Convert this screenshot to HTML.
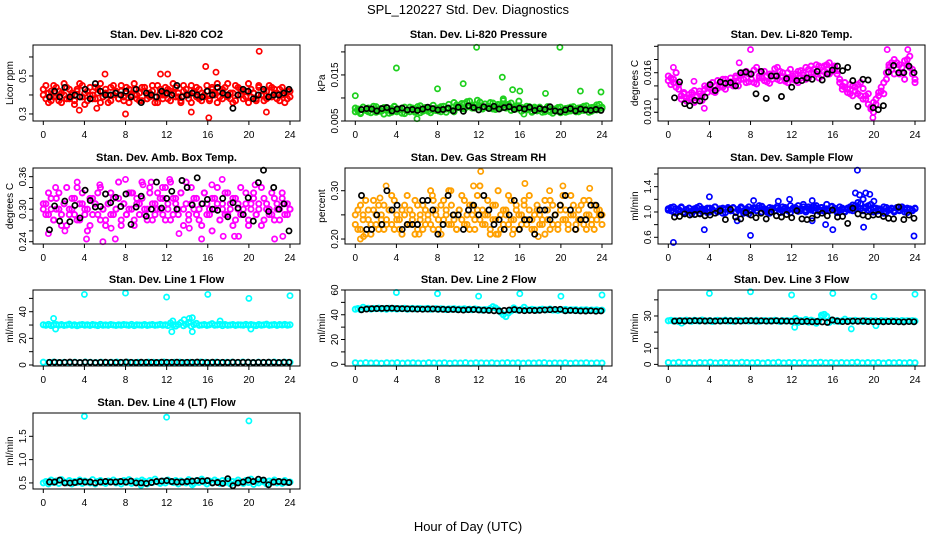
<!DOCTYPE html>
<html><head><meta charset="utf-8"><title>SPL_120227 Std. Dev. Diagnostics</title>
<style>
html,body{margin:0;padding:0;background:#fff;}
svg{display:block;font-family:"Liberation Sans",sans-serif;}
</style></head>
<body>
<svg id="chart" width="936" height="540" viewBox="0 0 936 540" xmlns="http://www.w3.org/2000/svg">
<rect x="0" y="0" width="936" height="540" fill="#fff"/>
<text x="468" y="14" text-anchor="middle" font-size="13">SPL_120227  Std. Dev. Diagnostics</text>
<text x="468" y="531" text-anchor="middle" font-size="13">Hour of Day (UTC)</text>
</svg>
<script>
// ---- data (hour-of-day series, evenly spaced over each day) ----
const xTicks=[0,4,8,12,16,20,24];

const co2Color=[.43,.38,.41,.37,.45,.39,.42,.36,.40,.44,.38,.41,.37,.43,.46,.39,.35,.42,.40,.38,.44,.41,.36,.39,.43,.40,.37,.45,.41,.38,.42,.39,.44,.36,.40,.43,.38,.41,.37,.44,.40,.39,.42,.36,.45,.41,.38,.40,.43,.37,.41,.44,.39,.36,.42,.40,.38,.45,.41,.39,.43,.37,.40,.42,.38,.44,.41,.36,.39,.43,.40,.46,.38,.41,.37,.44,.40,.42,.39,.36,.43,.41,.38,.45,.40,.37,.42,.39,.44,.41,.38,.43,.40,.36,.42,.39];
const co2Color2=[.40,.45,.36,.42,.39,.44,.37,.41,.46,.38,.43,.40,.35,.42,.39,.45,.41,.37,.44,.40,.38,.43,.46,.39,.41,.36,.44,.40,.42,.38,.45,.37,.41,.43,.39,.46,.40,.37,.44,.42,.38,.41,.45,.39,.36,.43,.40,.44,.38,.42,.46,.39,.41,.37,.45,.43,.40,.36,.42,.44,.38,.41,.39,.45,.37,.43,.40,.46,.42,.38,.44,.39,.41,.36,.45,.40,.43,.38,.42,.46,.39,.41,.37,.44,.40,.42,.38,.45,.39,.43,.41,.37,.44,.40,.38,.42];
const co2Black=[.39,.42,.39,.44,.39,.40,.39,.43,.38,.46,.42,.40,.40,.41,.40,.42,.39,.43,.36,.41,.40,.39,.42,.41,.40,.45,.39,.40,.41,.40,.39,.42,.40,.44,.41,.40,.33,.40,.43,.42,.38,.40,.43,.39,.40,.40,.41,.43];
const co2OutT=[21,16.1,15.8,6,8,14.4,3.5,16.8,11.4,21.7,5.2,12.1];
const co2OutV=[.63,.28,.55,.51,.30,.31,.32,.52,.51,.31,.33,.51];

const presColor=[.0078,.0072,.0068,.0080,.0074,.0070,.0076,.0082,.0069,.0075,.0071,.0079,.0073,.0067,.0077,.0081,.0070,.0074,.0078,.0066,.0072,.0080,.0075,.0069,.0076,.0083,.0071,.0074,.0079,.0068,.0073,.0077,.0072,.0081,.0075,.0069,.0078,.0074,.0070,.0085,.0079,.0088,.0076,.0092,.0081,.0084,.0078,.0095,.0083,.0080,.0087,.0079,.0090,.0076,.0082,.0086,.0078,.0098,.0084,.0080,.0089,.0077,.0083,.0093,.0079,.0074,.0082,.0076,.0071,.0080,.0073,.0078,.0069,.0075,.0081,.0070,.0076,.0072,.0079,.0068,.0074,.0077,.0071,.0080,.0075,.0070,.0078,.0073,.0082,.0076,.0069,.0079,.0074,.0085,.0077,.0080];
const presColor2=[.0070,.0076,.0066,.0080,.0073,.0078,.0068,.0075,.0081,.0071,.0077,.0065,.0079,.0074,.0069,.0082,.0072,.0076,.0067,.0080,.0074,.0070,.0078,.0073,.0081,.0068,.0075,.0079,.0071,.0077,.0084,.0073,.0078,.0070,.0082,.0076,.0086,.0074,.0090,.0079,.0083,.0077,.0088,.0081,.0093,.0078,.0085,.0080,.0091,.0076,.0087,.0082,.0079,.0089,.0075,.0084,.0081,.0094,.0078,.0086,.0073,.0080,.0076,.0083,.0071,.0078,.0074,.0081,.0069,.0077,.0072,.0080,.0075,.0070,.0079,.0073,.0067,.0076,.0071,.0080,.0074,.0069,.0078,.0072,.0081,.0075,.0070,.0079,.0073,.0083,.0076,.0071,.0080,.0074,.0086,.0078];
const presBlack=[.0075,.0077,.0076,.0072,.0077,.0079,.0072,.0076,.0078,.0074,.0075,.0073,.0076,.0080,.0077,.0074,.0075,.0078,.0072,.0080,.0071,.0083,.0079,.0074,.0081,.0077,.0082,.0076,.0079,.0081,.0075,.0078,.0076,.0080,.0073,.0077,.0075,.0081,.0072,.0070,.0074,.0077,.0072,.0076,.0074,.0073,.0075,.0073];
const presOutT=[0,4,11.8,19.9,8,15.3,14.3,10.5,16,18.5,23.9,21.9,16.4,6];
const presOutV=[.0105,.0165,.021,.021,.012,.0118,.0145,.0131,.0115,.011,.0113,.0115,.0065,.0055];

const tempColor=[.0148,.0152,.0145,.0160,.0142,.0125,.0130,.0122,.0127,.0120,.0133,.0125,.0128,.0118,.0135,.0138,.0142,.0132,.0140,.0136,.0145,.0138,.0150,.0142,.0146,.0140,.0152,.0148,.0156,.0150,.0162,.0146,.0158,.0164,.0143,.0152,.0160,.0148,.0155,.0144,.0158,.0166,.0150,.0162,.0154,.0147,.0160,.0152,.0150,.0158,.0145,.0163,.0156,.0168,.0152,.0160,.0165,.0158,.0170,.0155,.0162,.0172,.0158,.0168,.0170,.0163,.0150,.0140,.0145,.0135,.0128,.0140,.0132,.0142,.0125,.0136,.0120,.0128,.0105,.0100,.0112,.0125,.0132,.0128,.0150,.0172,.0165,.0180,.0175,.0158,.0168,.0150,.0172,.0185,.0165,.0150];
const tempColor2=[.0155,.0142,.0150,.0138,.0135,.0120,.0128,.0117,.0122,.0130,.0115,.0124,.0132,.0125,.0140,.0130,.0136,.0145,.0130,.0148,.0140,.0150,.0135,.0146,.0152,.0143,.0155,.0140,.0150,.0160,.0145,.0158,.0150,.0145,.0168,.0155,.0152,.0162,.0146,.0158,.0150,.0155,.0168,.0148,.0160,.0150,.0145,.0165,.0155,.0148,.0162,.0152,.0160,.0150,.0165,.0170,.0160,.0172,.0152,.0168,.0170,.0160,.0175,.0162,.0165,.0158,.0145,.0135,.0138,.0130,.0142,.0125,.0138,.0128,.0145,.0120,.0125,.0112,.0108,.0115,.0120,.0130,.0138,.0145,.0160,.0168,.0175,.0158,.0165,.0172,.0160,.0178,.0180,.0168,.0158,.0145];
const tempBlack=[.0122,.0146,.0113,.0110,.0118,.0117,.0123,.0142,.0133,.0146,.0144,.0145,.0140,.0160,.0161,.0158,.0128,.0162,.0121,.0155,.0155,.0124,.0151,.0138,.0148,.0148,.0152,.0150,.0162,.0149,.0158,.0164,.0170,.0163,.0168,.0148,.0109,.0150,.0149,.0107,.0104,.0110,.0161,.0171,.0160,.0160,.0170,.0160];
const tempOutT=[8,3.5,19.9,21.3,23.3,0.5,6.9,2.5];
const tempOutV=[.0195,.0106,.0092,.0195,.0195,.0168,.0175,.0147];

const ambColor=[.30,.31,.29,.32,.28,.30,.33,.29,.31,.27,.30,.32,.29,.34,.28,.31,.30,.26,.32,.29,.31,.33,.28,.30,.27,.31,.29,.32,.30,.35,.28,.31,.29,.30,.33,.27,.31,.29,.32,.30,.28,.34,.31,.29,.33,.30,.32,.28,.31,.35,.29,.32,.30,.33,.27,.31,.29,.34,.30,.32,.28,.31,.33,.29,.30,.26,.32,.31,.28,.30,.33,.29,.31,.27,.32,.30,.34,.29,.31,.28,.30,.33,.29,.31,.27,.32,.30,.29,.33,.28,.31,.30,.32,.29,.31,.30];
const ambColor2=[.31,.29,.33,.30,.28,.32,.30,.27,.31,.34,.29,.30,.32,.28,.31,.33,.29,.30,.27,.32,.31,.29,.34,.30,.28,.31,.33,.29,.30,.32,.27,.31,.29,.33,.30,.28,.32,.31,.35,.29,.30,.33,.28,.31,.30,.32,.29,.34,.30,.28,.32,.31,.29,.33,.30,.35,.28,.31,.32,.29,.30,.27,.33,.31,.29,.32,.30,.34,.28,.31,.29,.33,.30,.32,.28,.31,.29,.30,.33,.27,.31,.32,.29,.30,.34,.28,.31,.30,.29,.32,.30,.28,.33,.31,.29,.30];
const ambBlack=[.262,.306,.278,.315,.277,.307,.284,.335,.316,.304,.305,.328,.312,.322,.305,.328,.272,.304,.324,.287,.300,.350,.302,.320,.333,.300,.353,.340,.308,.358,.310,.318,.300,.298,.320,.286,.312,.302,.290,.321,.278,.349,.372,.296,.340,.300,.310,.260];
const ambOutT=[0.5,4.2,5.8,7,8,3.3,10.5,12.3,15.4,17.5,18.6,23.3,22.5,17.4,8.7,5.5,1.2,19,13.2,2.1,9.7,16.4,11.6,6.6,20.6,14.2];
const ambOutV=[.255,.245,.24,.245,.355,.35,.35,.355,.245,.25,.25,.25,.245,.355,.33,.345,.34,.25,.255,.26,.345,.345,.34,.265,.345,.265];

const rhColor=[.25,.22,.27,.24,.21,.26,.23,.28,.25,.22,.24,.27,.23,.26,.29,.22,.25,.24,.21,.27,.23,.26,.25,.28,.22,.24,.27,.23,.25,.30,.22,.26,.24,.21,.28,.25,.23,.27,.24,.22,.26,.29,.23,.25,.22,.27,.24,.26,.31,.23,.25,.28,.22,.24,.27,.21,.25,.23,.26,.29,.24,.22,.27,.25,.23,.28,.24,.26,.22,.25,.27,.23,.24,.21,.26,.28,.23,.25,.22,.27,.24,.26,.23,.29,.25,.22,.24,.27,.23,.25,.28,.24,.22,.26,.25,.23];
const rhColor2=[.23,.26,.22,.25,.28,.24,.21,.26,.23,.27,.25,.22,.24,.26,.23,.28,.24,.22,.26,.25,.29,.23,.24,.21,.27,.25,.22,.26,.24,.23,.28,.25,.22,.27,.24,.26,.30,.23,.25,.22,.26,.24,.28,.23,.27,.25,.22,.29,.24,.26,.23,.25,.21,.27,.24,.30,.22,.26,.25,.23,.28,.24,.26,.22,.25,.27,.23,.29,.24,.22,.26,.25,.23,.28,.24,.22,.27,.25,.23,.26,.29,.24,.22,.25,.27,.23,.26,.24,.28,.22,.25,.23,.27,.24,.26,.25];
const rhBlack=[.29,.22,.22,.25,.23,.30,.26,.27,.22,.23,.23,.23,.28,.28,.26,.21,.23,.29,.25,.25,.22,.26,.27,.25,.29,.26,.23,.24,.22,.25,.28,.22,.24,.24,.21,.26,.26,.24,.25,.27,.29,.26,.22,.24,.24,.27,.27,.25];
const rhOutT=[0.8,0.5,3,12.2,16.5,17.8,15.3,9.3,20.2,22.8,6.2,11.5,2.4,7.5,13.7,18.9];
const rhOutV=[.205,.20,.31,.34,.315,.205,.21,.30,.31,.305,.21,.31,.285,.29,.21,.30];

const flowColor=[1.05,1.02,1.08,0.98,1.04,1.07,1.00,1.03,1.06,0.97,1.05,1.02,1.09,1.01,1.04,0.99,1.06,1.03,1.08,1.00,1.05,0.98,1.04,1.07,1.02,1.06,0.99,1.03,1.08,1.01,1.05,0.97,1.04,1.07,1.02,1.10,1.00,1.05,1.03,0.98,1.06,1.02,1.09,1.04,1.01,1.07,1.03,0.99,1.06,1.04,1.10,1.02,1.08,1.00,1.05,1.03,1.09,1.06,1.01,1.07,1.04,1.12,1.02,1.08,1.05,0.99,1.03,1.06,1.01,1.04,1.08,1.02,1.10,1.15,1.05,1.20,1.08,1.03,1.12,1.00,1.06,1.02,1.04,0.98,1.07,1.03,1.05,1.00,1.06,1.02,1.08,1.04,0.99,1.05,1.03,1.06];
const flowColor2=[1.03,1.07,1.00,1.05,1.02,1.08,0.99,1.04,1.06,1.01,1.03,1.07,0.98,1.05,1.02,1.06,1.00,1.04,1.08,1.01,1.03,1.06,0.99,1.05,1.02,1.07,1.00,1.04,1.06,0.98,1.03,1.08,1.01,1.05,1.02,1.06,1.09,1.03,1.00,1.07,1.04,1.02,1.06,0.99,1.08,1.05,1.02,1.10,1.04,1.07,1.01,1.05,1.12,1.03,1.08,1.06,1.02,1.10,1.04,1.07,1.01,1.05,1.03,1.09,1.06,1.02,1.08,1.04,1.00,1.06,1.03,1.11,1.05,1.08,1.13,1.02,1.06,1.10,1.04,1.07,1.01,1.05,1.03,1.08,1.00,1.04,1.06,1.02,1.07,1.03,1.05,1.00,1.06,1.04,1.02,1.05];
const flowBlack=[0.92,0.93,0.97,0.95,0.96,0.97,0.94,0.95,0.98,1.02,0.88,1.04,0.92,0.89,0.99,0.95,0.91,0.98,0.89,1.00,0.94,0.92,0.96,0.91,1.02,0.89,0.88,0.90,0.95,0.98,0.94,1.03,0.92,0.93,0.82,1.06,0.97,0.95,0.93,0.95,0.96,0.93,0.90,0.89,1.08,0.88,0.95,0.90];
const flowOutT=[0.5,3.5,4,8,16,18.4,19,23.9,8.3,11.8,14,18.2,18.6,19.2,19.6,20,6.7,14,10.7,15.3];
const flowOutV=[0.52,0.72,1.24,0.63,0.72,1.66,0.76,0.62,1.18,1.2,1.18,1.30,1.27,1.30,1.28,1.17,0.86,0.86,1.17,0.80];

const line1Upper=[30.2,29.8,30.5,29.6,30.1,30.4,29.9,30.3,29.7,30.0,30.6,29.8,30.2,29.5,30.1,30.4,29.9,30.2,29.7,30.3,30.0,29.6,30.5,29.9,30.1,29.8,30.4,30.0,29.7,30.2,29.9,30.3,30.1,29.8,30.5,29.6,30.2,30.0,29.9,30.4,29.7,30.1,30.3,29.8,30.0,30.5,29.9,30.2,29.6,31.5,30.1,29.2,30.4,31.8,29.5,30.6,32.0,29.1,30.3,31.2,29.8,30.0,30.4,29.7,30.2,31.0,29.9,30.1,30.5,29.6,30.3,29.8,30.0,30.4,29.7,30.2,30.1,29.9,30.5,29.8,30.3,30.0,29.6,30.4,29.9,30.2,30.6,29.8,30.1,30.4,29.7,30.3,30.0,30.5,29.9,30.2];
const line1Lower=[2.1,1.8,2.2,1.9,2.0,1.7,2.1,1.9,2.2,2.0,1.8,2.1,1.9,2.0,2.2,1.8,2.1,1.9,2.0,1.7,2.1,2.0,1.9,2.2,1.8,2.0,2.1,1.9,2.0,1.8,2.2,2.0,1.9,2.1,1.8,2.0,2.1,1.9,2.2,2.0,1.8,2.1,1.9,2.0,2.2,1.8,2.1,2.0];
const line1Black=[2.0,2.1,1.9,2.0,2.2,2.0,1.9,2.1,2.0,1.8,2.0,2.1,2.0,1.9,2.0,2.2,2.0,1.9,2.1,2.0,2.0,1.9,2.1,2.0,2.0,2.1,1.9,2.0,2.0,2.2,2.0,1.9,2.1,2.0,2.0,1.9,2.1,2.0,2.0,2.1,1.9,2.0,2.0,2.1,2.0,1.9,2.1,2.0];
const line1OutT=[4,8,12,16,20,24,1,1.2,12.5,13.7,14.2,14.5,14.5,12.6,17.2,20.2];
const line1OutV=[53,54,51,53,50,52,35,27,25,34,35,35.5,25,33,33,27];

const line2Upper=[44.5,45.0,44.2,46.0,44.8,45.2,44.6,45.1,44.9,45.3,44.7,45.0,44.4,45.2,44.8,45.1,44.6,45.0,44.9,45.2,44.5,44.8,45.1,44.7,44.9,45.0,44.6,44.8,45.1,44.5,44.7,44.9,44.4,44.8,44.6,44.2,44.7,44.5,44.9,44.3,44.6,44.4,44.8,44.2,44.5,44.1,44.7,44.3,44.0,43.8,44.2,43.9,45.0,46.5,45.5,44.0,42.0,40.0,38.5,41.5,43.0,45.5,44.0,43.6,44.3,46.0,44.1,43.8,44.4,44.0,43.7,44.2,44.5,43.9,44.1,44.6,43.8,44.0,43.5,44.2,43.9,44.3,43.6,44.0,43.8,44.1,43.4,43.9,43.7,44.0,43.5,43.8,43.6,43.9,43.4,43.7];
const line2Lower=[1.2,0.9,1.3,1.0,1.1,0.8,1.2,1.0,1.3,0.9,1.1,1.2,1.0,0.9,1.3,1.1,1.0,1.2,0.8,1.1,1.0,1.3,0.9,1.2,1.1,1.0,1.2,0.9,1.1,1.3,1.0,1.2,0.9,1.1,1.0,1.2,1.3,0.9,1.1,1.0,1.2,0.8,1.1,1.0,1.2,0.9,1.1,1.0];
const line2Black=[44.0,44.6,44.9,45.0,45.1,45.2,45.3,45.0,44.9,44.8,44.7,44.6,44.5,44.6,44.7,44.5,44.4,44.2,44.3,44.0,43.8,44.1,44.2,43.9,43.7,43.5,43.2,43.0,43.4,43.8,44.2,43.6,43.3,43.5,43.4,43.6,43.9,44.1,44.3,44.4,43.2,43.5,43.3,43.1,43.0,43.2,42.9,43.1];
const line2OutT=[4,8,12,16,20,24];
const line2OutV=[58,57,55,57,55,56];

const line3Upper=[27.0,27.3,26.8,27.1,26.5,27.2,26.9,27.4,27.0,26.7,27.3,27.1,26.8,27.5,27.0,26.9,27.2,26.6,27.1,27.3,26.9,27.0,27.4,26.8,27.2,26.7,27.1,27.3,26.9,27.0,27.2,26.8,27.1,26.9,27.3,26.7,27.0,27.2,26.8,27.1,26.9,27.3,27.0,26.6,27.2,26.9,27.1,26.8,27.0,28.5,26.0,27.2,26.5,27.8,26.2,27.4,26.8,25.5,27.0,30.5,31.0,29.8,26.0,27.5,26.8,27.2,26.6,27.0,28.0,26.9,27.1,26.7,27.3,26.9,27.0,26.6,27.2,26.9,27.1,26.8,27.0,26.5,27.2,26.9,27.0,26.7,27.1,26.8,27.0,26.6,27.2,26.9,27.0,26.8,27.1,26.9];
const line3Lower=[1.2,0.9,1.3,1.0,1.1,0.8,1.2,1.0,1.3,0.9,1.1,1.2,1.0,0.9,1.3,1.1,1.0,1.2,0.8,1.1,1.0,1.3,0.9,1.2,1.1,1.0,1.2,0.9,1.1,1.3,1.0,1.2,0.9,1.1,1.0,1.2,1.3,0.9,1.1,1.0,1.2,0.8,1.1,1.0,1.2,0.9,1.1,1.0];
const line3Black=[26.8,27.0,26.9,27.0,27.1,27.0,26.9,27.0,26.8,26.9,27.0,27.0,26.9,26.8,27.0,27.1,26.9,27.0,26.8,26.9,27.0,26.9,26.8,26.7,26.9,26.5,26.7,26.4,26.6,26.3,26.0,27.5,26.8,26.5,26.6,26.8,26.7,26.9,26.6,26.5,26.6,26.4,26.6,26.5,26.4,26.3,26.5,26.4];
const line3OutT=[4,8,12,16,20,24,12.3,17.8,15,15.2,20.2,1.3];
const line3OutV=[44,45,43,44,42,43.5,23,22,30,31,24,25.5];

const line4Color=[0.50,0.53,0.48,0.56,0.51,0.54,0.49,0.57,0.52,0.50,0.55,0.48,0.53,0.51,0.56,0.49,0.54,0.52,0.50,0.57,0.48,0.53,0.55,0.51,0.49,0.54,0.52,0.56,0.50,0.53,0.48,0.55,0.51,0.57,0.49,0.52,0.54,0.50,0.56,0.53,0.48,0.55,0.51,0.58,0.52,0.49,0.54,0.50,0.56,0.53,0.51,0.55,0.48,0.54,0.52,0.50,0.57,0.53,0.49,0.55,0.51,0.58,0.52,0.48,0.54,0.50,0.56,0.53,0.49,0.55,0.51,0.54,0.48,0.53,0.50,0.56,0.52,0.49,0.55,0.51,0.58,0.47,0.53,0.50,0.55,0.52,0.48,0.54,0.51,0.56,0.50,0.53,0.49,0.55,0.51,0.52];
const line4Black=[0.52,0.52,0.56,0.50,0.50,0.51,0.53,0.52,0.52,0.50,0.52,0.53,0.52,0.52,0.53,0.52,0.54,0.50,0.50,0.49,0.51,0.53,0.54,0.55,0.53,0.52,0.52,0.53,0.54,0.55,0.54,0.55,0.50,0.51,0.49,0.59,0.44,0.50,0.52,0.56,0.53,0.58,0.56,0.46,0.52,0.53,0.52,0.51];
const line4OutT=[4,12,20,9.5,14.5];
const line4OutV=[1.93,1.91,1.83,0.45,0.46];

// ---- layout ----
const COLX=[33,345,658], ROWY=[45,168,290,413], PW=267, PH=76;
const svg=document.getElementById('chart');
const NS='http://www.w3.org/2000/svg';
function mk(tag,attrs,parent){const e=document.createElementNS(NS,tag);for(const k in attrs)e.setAttribute(k,attrs[k]);(parent||svg).appendChild(e);return e;}

const panels=[
 {key:'co2',col:0,row:0,title:'Stan. Dev. Li-820 CO2',yt:'Licor ppm',ymin:0.263,ymax:0.663,ticks:[0.3,0.4,0.5,0.6],labels:['0.3','','0.5',''],color:'#ff0000',series:[co2Color,co2Color2],black:co2Black,outT:co2OutT,outV:co2OutV},
 {key:'pressure',col:1,row:0,title:'Stan. Dev. Li-820 Pressure',yt:'kPa',ymin:0.005,ymax:0.0215,ticks:[0.005,0.01,0.015,0.02],labels:['0.005','','0.015',''],color:'#1ed01e',series:[presColor,presColor2],black:presBlack,outT:presOutT,outV:presOutV},
 {key:'li-temp',col:2,row:0,title:'Stan. Dev. Li-820 Temp.',yt:'degrees C',ymin:0.00868,ymax:0.0202,ticks:[0.010,0.012,0.014,0.016,0.018,0.020],labels:['0.010','','','0.016','',''],color:'#ff00ff',series:[tempColor,tempColor2],black:tempBlack,outT:tempOutT,outV:tempOutV},
 {key:'amb-box-temp',col:0,row:1,title:'Stan. Dev. Amb. Box Temp.',yt:'degrees C',ymin:0.2358,ymax:0.376,ticks:[0.24,0.26,0.28,0.30,0.32,0.34,0.36],labels:['0.24','','','0.30','','','0.36'],color:'#ff00ff',series:[ambColor,ambColor2],black:ambBlack,outT:ambOutT,outV:ambOutV},
 {key:'gas-rh',col:1,row:1,title:'Stan. Dev. Gas Stream RH',yt:'percent',ymin:0.1897,ymax:0.347,ticks:[0.20,0.25,0.30],labels:['0.20','','0.30'],color:'#ffa000',series:[rhColor,rhColor2],black:rhBlack,outT:rhOutT,outV:rhOutV},
 {key:'sample-flow',col:2,row:1,title:'Stan. Dev. Sample Flow',yt:'ml/min',ymin:0.494,ymax:1.695,ticks:[0.6,0.8,1.0,1.2,1.4,1.6],labels:['0.6','','1.0','','1.4',''],color:'#0000ff',series:[flowColor,flowColor2],black:flowBlack,outT:flowOutT,outV:flowOutV},
 {key:'line1-flow',col:0,row:2,title:'Stan. Dev. Line 1 Flow',yt:'ml/min',ymin:-0.75,ymax:56.3,ticks:[0,10,20,30,40,50],labels:['0','','20','','40',''],color:'#00ffff',series:[line1Upper,line1Lower],black:line1Black,outT:line1OutT,outV:line1OutV},
 {key:'line2-flow',col:1,row:2,title:'Stan. Dev. Line 2 Flow',yt:'ml/min',ymin:-1.4,ymax:60,ticks:[0,10,20,30,40,50,60],labels:['0','','20','','40','','60'],color:'#00ffff',series:[line2Lower,line2Upper],black:line2Black,outT:line2OutT,outV:line2OutV},
 {key:'line3-flow',col:2,row:2,title:'Stan. Dev. Line 3 Flow',yt:'ml/min',ymin:-1,ymax:46.1,ticks:[0,10,20,30,40],labels:['0','10','','30',''],color:'#00ffff',series:[line3Lower,line3Upper],black:line3Black,outT:line3OutT,outV:line3OutV},
 {key:'line4-flow',col:0,row:3,title:'Stan. Dev. Line 4 (LT) Flow',yt:'ml/min',ymin:0.37,ymax:2.0,ticks:[0.5,1.0,1.5],labels:['0.5','1.0','1.5'],color:'#00ffff',series:[line4Color],black:line4Black,outT:line4OutT,outV:line4OutV}
];

panels.forEach(p=>{
  const L=COLX[p.col], T=ROWY[p.row], B=T+PH;
  const xs=t=>L+10.3+t*246.7/24;
  const ys=v=>B-(v-p.ymin)/(p.ymax-p.ymin)*PH;
  const g=mk('g',{});
  
  
  const title=mk('text',{x:L+PW/2,y:T-7,'text-anchor':'middle','font-size':11,'font-weight':'bold'},g);
  title.textContent=p.title;
  
  
  const yt=mk('text',{x:L-20,y:T+PH/2,'text-anchor':'middle','font-size':10,transform:'rotate(-90 '+(L-20)+' '+(T+PH/2)+')'},g);
  yt.textContent=p.yt;
  
  
  const pts=mk('g',{fill:'none'},g);
  
  
  const drawPt=(t,v,c,name,sw)=>{
    const c1=mk('circle',{cx:xs(t).toFixed(1),cy:ys(v).toFixed(1),r:2.6,stroke:c,'stroke-width':sw},pts);
    
    
  };
  p.series.forEach(s=>{s.forEach((v,i)=>drawPt(i*24/(s.length-1),v,p.color,'point',1.9));});
  p.outT.forEach((t,i)=>drawPt(t,p.outV[i],p.color,'outlier-point',1.7));
  p.black.forEach((v,i)=>drawPt(0.6+i*23.3/(p.black.length-1),v,'#000','hourly-point',1.7));
  const box=mk('rect',{x:L,y:T,width:PW,height:PH,fill:'none',stroke:'#000','stroke-width':1},g);
  
  
  xTicks.forEach(t=>{
    const x=xs(t);
    mk('line',{x1:x,y1:B,x2:x,y2:B+4,stroke:'#000'},g);
    const tl=mk('text',{x:x,y:B+17,'text-anchor':'middle','font-size':10},g);
    tl.textContent=String(t);
    
    
  });
  p.ticks.forEach((v,i)=>{
    const y=ys(v);
    mk('line',{x1:L-4,y1:y,x2:L,y2:y,stroke:'#000'},g);
    if(p.labels[i]){
      const tl=mk('text',{x:L-7,y:y,'text-anchor':'middle','font-size':10,transform:'rotate(-90 '+(L-7)+' '+y+')'},g);
      tl.textContent=p.labels[i];
      
      
    }
  });
});
</script>
</body></html>
